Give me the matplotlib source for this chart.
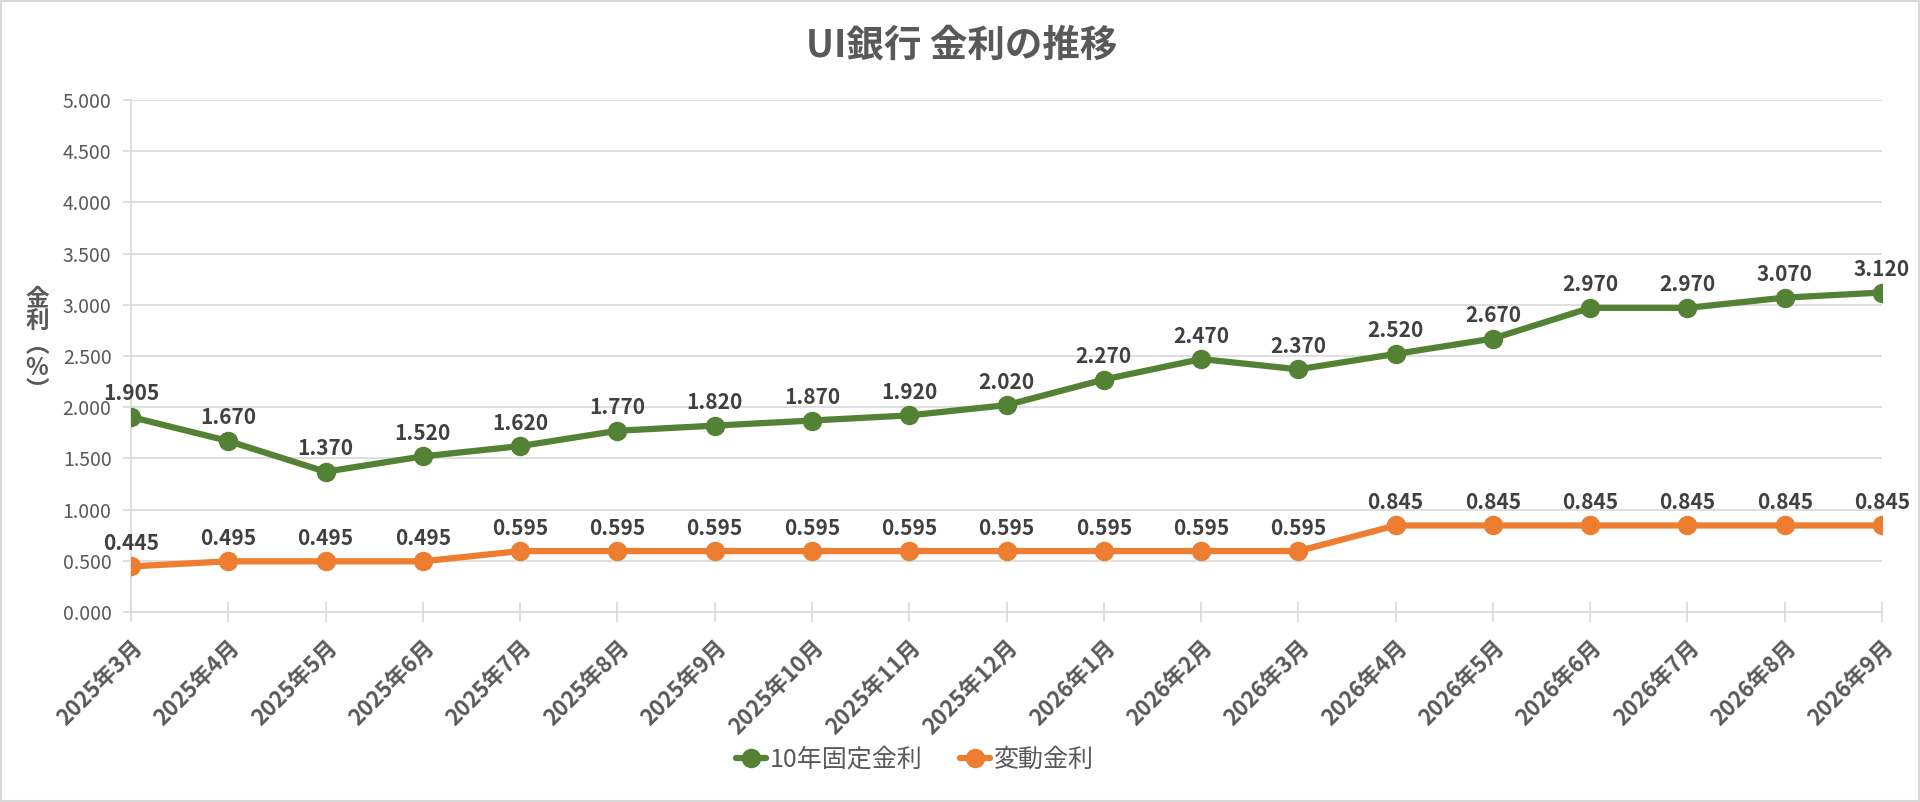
import matplotlib
matplotlib.use("Agg")
import matplotlib.pyplot as plt
from matplotlib.ticker import FuncFormatter, MultipleLocator
from matplotlib.patches import Rectangle

plt.rcParams['font.family'] = ['Noto Sans CJK JP', 'DejaVu Sans']

# ---- data ----
months = ["2025年3月", "2025年4月", "2025年5月", "2025年6月", "2025年7月", "2025年8月",
          "2025年9月", "2025年10月", "2025年11月", "2025年12月", "2026年1月", "2026年2月",
          "2026年3月", "2026年4月", "2026年5月", "2026年6月", "2026年7月", "2026年8月",
          "2026年9月"]
fixed10 = [1.905, 1.670, 1.370, 1.520, 1.620, 1.770, 1.820, 1.870, 1.920, 2.020,
           2.270, 2.470, 2.370, 2.520, 2.670, 2.970, 2.970, 3.070, 3.120]
variable = [0.445, 0.495, 0.495, 0.495, 0.595, 0.595, 0.595, 0.595, 0.595, 0.595,
            0.595, 0.595, 0.595, 0.845, 0.845, 0.845, 0.845, 0.845, 0.845]
series_names = ["10年固定金利", "変動金利"]
title = "UI銀行 金利の推移"
ylabel = "金\n利\n︵\n%\n︶"

GREEN = "#548235"
ORANGE = "#ED7D31"
AXIS_TXT = "#595959"
LABEL_TXT = "#404040"
GRID = "#D9D9D9"

fig = plt.figure(figsize=(19.2, 8.02), dpi=100)
fig.patches.append(Rectangle((0.0005, 0.001), 0.999, 0.998, transform=fig.transFigure,
                             fill=False, edgecolor=GRID, linewidth=1.5))

ax = fig.add_axes([131/1920, 1-612/802, (1882-131)/1920, (612-100)/802])
x = list(range(len(months)))

l1, = ax.plot(x, fixed10, color=GREEN, lw=4.5, marker='o', ms=13, label=series_names[0],
              solid_capstyle='round', zorder=3)
l2, = ax.plot(x, variable, color=ORANGE, lw=4.5, marker='o', ms=13, label=series_names[1],
              solid_capstyle='round', zorder=3)

for xi, v in zip(x, fixed10):
    ax.annotate(f"{v:.3f}", (xi, v), xytext=(0, 9), textcoords='offset points',
                ha='center', va='bottom', fontsize=15, fontweight='bold', color=LABEL_TXT)
for xi, v in zip(x, variable):
    ax.annotate(f"{v:.3f}", (xi, v), xytext=(0, 9), textcoords='offset points',
                ha='center', va='bottom', fontsize=15, fontweight='bold', color=LABEL_TXT)

ax.set_xlim(0, len(months) - 1)
ax.set_ylim(0, 5)
ax.yaxis.set_major_locator(MultipleLocator(0.5))
ax.yaxis.set_major_formatter(FuncFormatter(lambda v, p: f"{v:.3f}"))
ax.grid(axis='y', color=GRID, lw=1.2)
ax.set_axisbelow(True)

ax.set_xticks(x)
ax.set_xticklabels(months, rotation=45, ha='right', va='top', rotation_mode='anchor',
                   fontsize=16, fontweight='bold', color=AXIS_TXT)
ax.tick_params(axis='x', direction='inout', length=14, width=1.2, color=GRID, pad=10)
ax.tick_params(axis='y', direction='out', length=6, width=1.2, color=GRID, labelsize=14,
               labelcolor=AXIS_TXT, pad=8)

for s in ['top', 'right']:
    ax.spines[s].set_visible(False)
for s in ['left', 'bottom']:
    ax.spines[s].set_color(GRID)
    ax.spines[s].set_linewidth(1.2)

fig.text(962/1920, 1-45/802, title, ha='center', va='center', fontsize=27,
         fontweight='bold', color=AXIS_TXT)
fig.text(37/1920, 1-345/802, ylabel, ha='center', va='center', fontsize=17,
         fontweight='bold', color=AXIS_TXT, linespacing=0.95)

leg = fig.legend(handles=[l1, l2], loc='center', bbox_to_anchor=(915/1920, 1-760/802),
                 ncol=2, frameon=False, fontsize=18, handlelength=1.2, handletextpad=0.15,
                 columnspacing=1.5, labelcolor=AXIS_TXT)

fig.savefig("out.png", dpi=100)
